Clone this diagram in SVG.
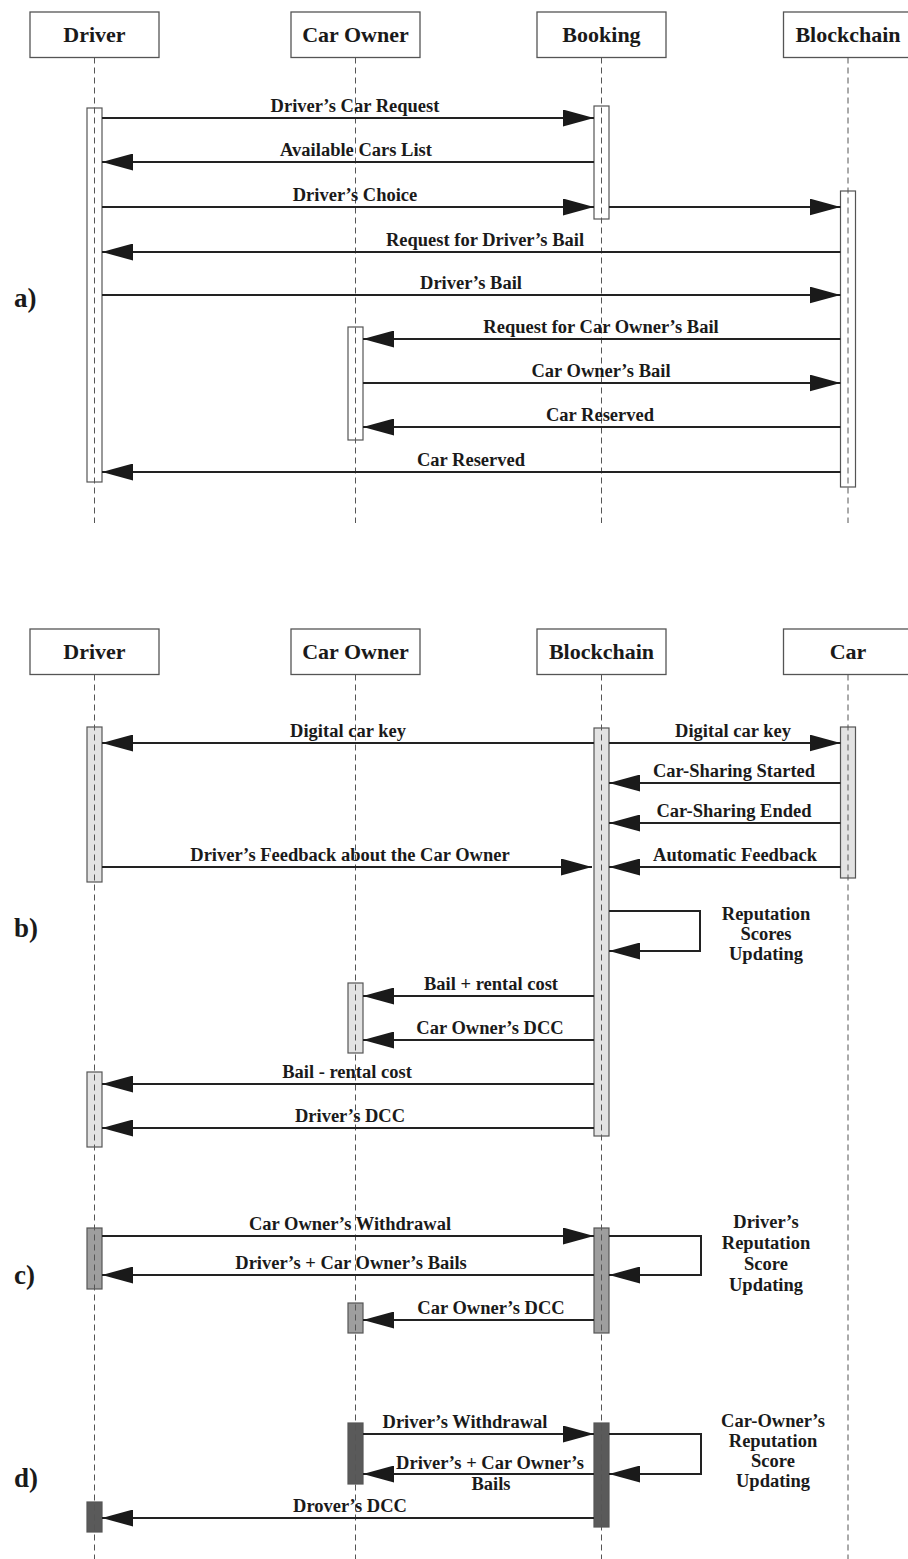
<svg xmlns="http://www.w3.org/2000/svg" width="908" height="1559" viewBox="0 0 908 1559">
<style>
 text {font-family:"Liberation Serif","Times New Roman",serif; font-weight:bold; fill:#1a1a1a}
 .box {fill:#fff; stroke:#555; stroke-width:1.3}
 .ht {font-size:22px; text-anchor:middle}
 .lbl {font-size:18.5px; text-anchor:middle}
 .sec {font-size:27px}
 .life {stroke:#555; stroke-width:1; stroke-dasharray:6 4; fill:none}
 .act {stroke:#555; stroke-width:1.2}
 .a0 {fill:#fff} .a1 {fill:#e3e3e3} .a2 {fill:#9e9e9e} .a3 {fill:#5a5a5a}
 .msg {stroke:#222; stroke-width:2; fill:none; marker-end:url(#ah)}
</style>
<defs>
 <marker id="ah" markerUnits="userSpaceOnUse" markerWidth="31" markerHeight="17" viewBox="0 0 31 17" refX="31" refY="8.5" orient="auto"><path d="M0,0 L31,8.5 L0,17 Z" fill="#1a1a1a"/></marker>
</defs>
<rect width="908" height="1559" fill="#fff"/>

<!-- Section a participants -->
<g id="a-driver">
 <rect class="box" x="30" y="12" width="129" height="45.5"/>
 <text class="ht" x="94.5" y="42">Driver</text>
 <rect class="act a0" x="87" y="108" width="15" height="374"/>
 <line class="life" x1="94.5" y1="57.5" x2="94.5" y2="523"/>
</g>
<g id="a-carowner">
 <rect class="box" x="291" y="12" width="129" height="45.5"/>
 <text class="ht" x="355.5" y="42">Car Owner</text>
 <rect class="act a0" x="348" y="327" width="15" height="113"/>
 <line class="life" x1="355.5" y1="57.5" x2="355.5" y2="523"/>
</g>
<g id="a-booking">
 <rect class="box" x="537" y="12" width="129" height="45.5"/>
 <text class="ht" x="601.5" y="42">Booking</text>
 <rect class="act a0" x="594" y="106" width="15" height="113"/>
 <line class="life" x1="601.5" y1="57.5" x2="601.5" y2="523"/>
</g>
<g id="a-blockchain">
 <rect class="box" x="783.5" y="12" width="129" height="45.5"/>
 <text class="ht" x="848" y="42">Blockchain</text>
 <rect class="act a0" x="840.5" y="191" width="15" height="296"/>
 <line class="life" x1="848" y1="57.5" x2="848" y2="523"/>
</g>

<!-- Section b-d participants -->
<g id="b-driver">
 <rect class="box" x="30" y="629" width="129" height="45.5"/>
 <text class="ht" x="94.5" y="659">Driver</text>
 <rect class="act a1" x="87" y="727" width="15" height="155"/>
 <rect class="act a1" x="87" y="1072" width="15" height="75"/>
 <rect class="act a2" x="87" y="1228" width="15" height="61"/>
 <rect class="act a3" x="87" y="1502" width="15" height="30"/>
 <line class="life" x1="94.5" y1="674.5" x2="94.5" y2="1559"/>
</g>
<g id="b-carowner">
 <rect class="box" x="291" y="629" width="129" height="45.5"/>
 <text class="ht" x="355.5" y="659">Car Owner</text>
 <rect class="act a1" x="348" y="983" width="15" height="70"/>
 <rect class="act a2" x="348" y="1303" width="15" height="30"/>
 <rect class="act a3" x="348" y="1423" width="15" height="61"/>
 <line class="life" x1="355.5" y1="674.5" x2="355.5" y2="1559"/>
</g>
<g id="b-blockchain">
 <rect class="box" x="537" y="629" width="129" height="45.5"/>
 <text class="ht" x="601.5" y="659">Blockchain</text>
 <rect class="act a1" x="594" y="728" width="15" height="408"/>
 <rect class="act a2" x="594" y="1228" width="15" height="105"/>
 <rect class="act a3" x="594" y="1423" width="15" height="104"/>
 <line class="life" x1="601.5" y1="674.5" x2="601.5" y2="1559"/>
</g>
<g id="b-car">
 <rect class="box" x="783.5" y="629" width="129" height="45.5"/>
 <text class="ht" x="848" y="659">Car</text>
 <rect class="act a1" x="840.5" y="727" width="15" height="151"/>
 <line class="life" x1="848" y1="674.5" x2="848" y2="1559"/>
</g>

<!-- Section labels -->
<g id="section-labels">
 <text class="sec" x="14" y="307">a)</text>
 <text class="sec" x="14" y="937">b)</text>
 <text class="sec" x="14" y="1284">c)</text>
 <text class="sec" x="14" y="1487">d)</text>
</g>

<!-- Connectors -->
<g id="connectors">
 <!-- a -->
 <line class="msg" x1="102" y1="118" x2="594" y2="118"/>
 <line class="msg" x1="594" y1="162" x2="102" y2="162"/>
 <line class="msg" x1="102" y1="207" x2="594" y2="207"/>
 <line class="msg" x1="609" y1="207" x2="840.5" y2="207"/>
 <line class="msg" x1="840.5" y1="252" x2="102" y2="252"/>
 <line class="msg" x1="102" y1="295" x2="840.5" y2="295"/>
 <line class="msg" x1="840.5" y1="339" x2="363" y2="339"/>
 <line class="msg" x1="363" y1="383" x2="840.5" y2="383"/>
 <line class="msg" x1="840.5" y1="427" x2="363" y2="427"/>
 <line class="msg" x1="840.5" y1="472" x2="102" y2="472"/>
 <!-- b -->
 <line class="msg" x1="594" y1="743" x2="102" y2="743"/>
 <line class="msg" x1="609" y1="743" x2="840.5" y2="743"/>
 <line class="msg" x1="840.5" y1="783" x2="609" y2="783"/>
 <line class="msg" x1="840.5" y1="823" x2="609" y2="823"/>
 <line class="msg" x1="840.5" y1="867" x2="609" y2="867"/>
 <line class="msg" x1="102" y1="867" x2="592" y2="867"/>
 <path class="msg" d="M609,911 H700 V951 H609"/>
 <line class="msg" x1="594" y1="996" x2="363" y2="996"/>
 <line class="msg" x1="594" y1="1040" x2="363" y2="1040"/>
 <line class="msg" x1="594" y1="1084" x2="102" y2="1084"/>
 <line class="msg" x1="594" y1="1128" x2="102" y2="1128"/>
 <!-- c -->
 <line class="msg" x1="102" y1="1236" x2="594" y2="1236"/>
 <path class="msg" d="M609,1236 H701 V1275 H609"/>
 <line class="msg" x1="594" y1="1275" x2="102" y2="1275"/>
 <line class="msg" x1="594" y1="1320" x2="363" y2="1320"/>
 <!-- d -->
 <line class="msg" x1="363" y1="1434" x2="594" y2="1434"/>
 <path class="msg" d="M609,1434 H701 V1474 H609"/>
 <line class="msg" x1="594" y1="1474" x2="363" y2="1474"/>
 <line class="msg" x1="594" y1="1518" x2="102" y2="1518"/>

 <!-- labels a -->
 <text class="lbl" x="355" y="112">Driver’s Car Request</text>
 <text class="lbl" x="356" y="156">Available Cars List</text>
 <text class="lbl" x="355" y="201">Driver’s Choice</text>
 <text class="lbl" x="485" y="246">Request for Driver’s Bail</text>
 <text class="lbl" x="471" y="289">Driver’s Bail</text>
 <text class="lbl" x="601" y="333">Request for Car Owner’s Bail</text>
 <text class="lbl" x="601" y="377">Car Owner’s Bail</text>
 <text class="lbl" x="600" y="421">Car Reserved</text>
 <text class="lbl" x="471" y="466">Car Reserved</text>
 <!-- labels b -->
 <text class="lbl" x="348" y="737">Digital car key</text>
 <text class="lbl" x="733" y="737">Digital car key</text>
 <text class="lbl" x="734" y="777">Car-Sharing Started</text>
 <text class="lbl" x="734" y="817">Car-Sharing Ended</text>
 <text class="lbl" x="735" y="861">Automatic Feedback</text>
 <text class="lbl" x="350" y="861">Driver’s Feedback about the Car Owner</text>
 <text class="lbl" x="766" y="920">Reputation</text>
 <text class="lbl" x="766" y="940">Scores</text>
 <text class="lbl" x="766" y="960">Updating</text>
 <text class="lbl" x="491" y="990">Bail + rental cost</text>
 <text class="lbl" x="490" y="1034">Car Owner’s DCC</text>
 <text class="lbl" x="347" y="1078">Bail - rental cost</text>
 <text class="lbl" x="350" y="1122">Driver’s DCC</text>
 <!-- labels c -->
 <text class="lbl" x="350" y="1230">Car Owner’s Withdrawal</text>
 <text class="lbl" x="351" y="1269">Driver’s + Car Owner’s Bails</text>
 <text class="lbl" x="491" y="1314">Car Owner’s DCC</text>
 <text class="lbl" x="766" y="1228">Driver’s</text>
 <text class="lbl" x="766" y="1249">Reputation</text>
 <text class="lbl" x="766" y="1270">Score</text>
 <text class="lbl" x="766" y="1291">Updating</text>
 <!-- labels d -->
 <text class="lbl" x="465" y="1428">Driver’s Withdrawal</text>
 <text class="lbl" x="490" y="1469">Driver’s + Car Owner’s</text>
 <text class="lbl" x="491" y="1490">Bails</text>
 <text class="lbl" x="350" y="1512">Drover’s DCC</text>
 <text class="lbl" x="773" y="1427">Car-Owner’s</text>
 <text class="lbl" x="773" y="1447">Reputation</text>
 <text class="lbl" x="773" y="1467">Score</text>
 <text class="lbl" x="773" y="1487">Updating</text>
</g>
</svg>
